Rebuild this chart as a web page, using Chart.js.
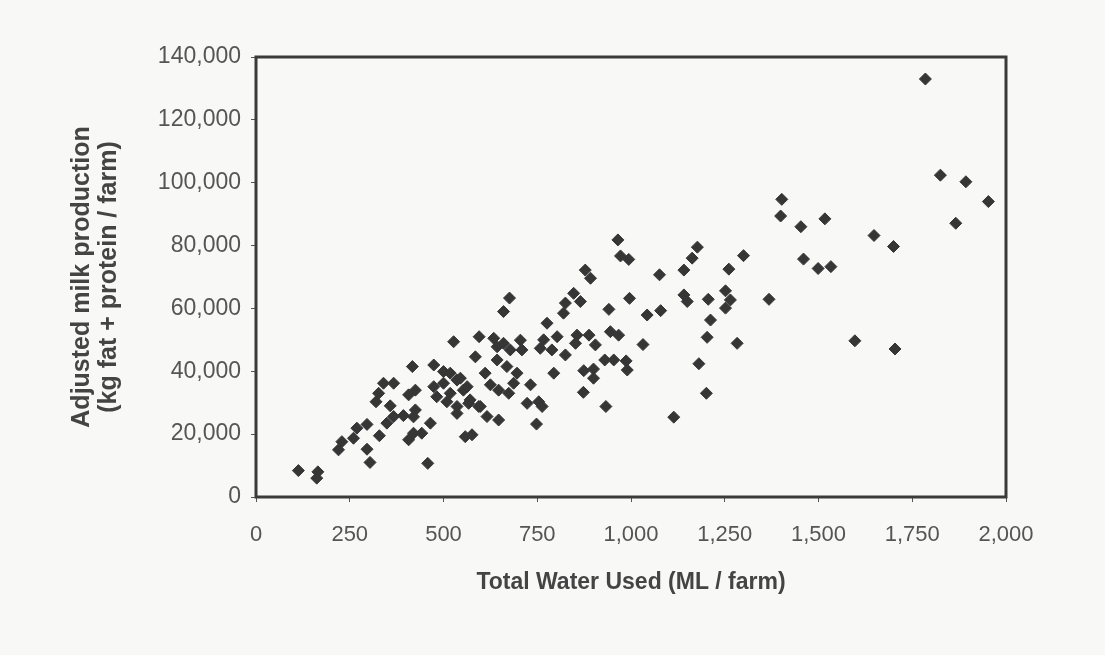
<!DOCTYPE html>
<html>
<head>
<meta charset="utf-8">
<script src="https://cdn.jsdelivr.net/npm/chart.js@4.4.0/dist/chart.umd.min.js"></script>
<style>
  html, body { margin: 0; padding: 0; background: #f8f8f7; }
  #wrap { width: 1105px; height: 655px; }
</style>
</head>
<body>
<div id="wrap"><canvas id="myChart" width="1105" height="655"></canvas></div>
<script>
// water used (ML / farm) and adjusted milk production (kg fat + protein / farm)
const waterUsed = [
  113, 165, 162, 220, 229, 260, 269, 296, 296, 304, 329, 320, 327, 340, 367, 358, 349, 367, 393, 407,
  425, 417, 425, 420, 407, 420, 442, 465, 458, 474, 500, 518, 536, 553, 571, 594, 536, 509, 482, 474,
  518, 500, 563, 545, 536, 567, 527, 558, 576, 585, 595, 634, 660, 660, 676, 643, 669, 696, 687, 674,
  647, 625, 611, 598, 616, 647, 643, 678, 705, 709, 878, 892, 847, 865, 825, 820, 776, 941, 996, 1076,
  1141, 1163, 1177, 1261, 1043, 1079, 1141, 1150, 1206, 1252, 1265, 1252, 1212, 1203, 1283, 1181, 1201, 1114, 1032, 945,
  967, 888, 905, 930, 954, 987, 990, 933, 874, 900, 900, 873, 794, 856, 852, 803, 825, 789, 767, 758,
  732, 723, 754, 763, 748, 965, 972, 994, 1300, 1402, 1399, 1453, 1517, 1648, 1700, 1460, 1499, 1533, 1368, 1597,
  1704, 1785, 1825, 1893, 1953, 1866
];
const milkProduction = [
  8400, 8000, 6000, 15000, 17600, 18700, 21900, 23100, 15200, 11000, 19500, 30300, 33000, 36200, 36200, 29000, 23500, 25600, 25900, 32500,
  34000, 41500, 27700, 25500, 18200, 20300, 20300, 23500, 10700, 42000, 39900, 39400, 37200, 34000, 30900, 28800, 28800, 30300, 31900, 35100,
  33000, 36200, 35100, 37800, 26600, 29800, 49400, 19200, 19800, 44600, 51000, 50500, 48900, 59000, 63300, 43600, 41500, 39400, 36200, 33000,
  34000, 35700, 39400, 28800, 25600, 24500, 47800, 46800, 49900, 46800, 72200, 69600, 64800, 62200, 61700, 58500, 55300, 59700, 63200, 70700,
  72200, 76000, 79500, 72500, 57900, 59300, 64300, 62200, 62900, 65600, 62700, 60100, 56300, 50800, 48900, 42400, 33000, 25400, 48500, 52600,
  51500, 51500, 48400, 43600, 43600, 43300, 40400, 28800, 40200, 40700, 37800, 33300, 39400, 51500, 48900, 51000, 45200, 46800, 50000, 47300,
  35700, 29800, 30300, 28800, 23200, 81800, 76700, 75600, 76800, 94700, 89400, 86000, 88500, 83200, 79700, 75700, 72700, 73300, 62900, 49700,
  47100, 133000, 102400, 100300, 94000, 87100
];
const xTicks = [0, 250, 500, 750, 1000, 1250, 1500, 1750, 2000];
const yTicks = [0, 20000, 40000, 60000, 80000, 100000, 120000, 140000];

const points = waterUsed.map((x, i) => ({ x: x, y: milkProduction[i] }));

// box around the plot area
const frame = {
  id: "frame",
  beforeDatasetsDraw(chart) {
    const { ctx, chartArea: a } = chart;
    ctx.save();
    ctx.strokeStyle = "#3a3a3a";
    ctx.lineWidth = 3;
    ctx.strokeRect(a.left, a.top, a.right - a.left, a.bottom - a.top);
    ctx.restore();
  },
};

const font = "'Liberation Sans', Arial, sans-serif";

new Chart(document.getElementById("myChart"), {
  type: "scatter",
  data: {
    datasets: [
      {
        label: "Farms",
        data: points,
        pointStyle: "rectRot",
        pointRadius: 6,
        pointHoverRadius: 6,
        backgroundColor: "#363636",
        borderColor: "#363636",
        borderWidth: 1,
      },
    ],
  },
  options: {
    responsive: false,
    animation: false,
    layout: { padding: { left: 0, right: 99, top: 57, bottom: 0 } },
    plugins: { legend: { display: false }, tooltip: { enabled: false } },
    scales: {
      x: {
        type: "linear",
        min: 0,
        max: 2000,
        afterBuildTicks: (s) => { s.ticks = xTicks.map((v) => ({ value: v })); },
        afterFit: (s) => { s.height = 158; },
        grid: { drawOnChartArea: false, tickLength: 5, tickColor: "#555", tickWidth: 1 },
        border: { display: false },
        ticks: { autoSkip: false, maxRotation: 0, padding: 20, color: "#555", font: { family: font, size: 22 } },
        title: {
          display: true,
          text: "Total Water Used (ML / farm)",
          color: "#444",
          padding: { top: 0, bottom: 59 },
          font: { family: font, size: 23, weight: "bold" },
        },
      },
      y: {
        type: "linear",
        min: 0,
        max: 140000,
        afterBuildTicks: (s) => { s.ticks = yTicks.map((v) => ({ value: v })); },
        afterFit: (s) => { s.width = 256; },
        grid: { drawOnChartArea: false, tickLength: 5, tickColor: "#555", tickWidth: 1 },
        border: { display: false },
        ticks: { autoSkip: false, padding: 10, color: "#555", font: { family: font, size: 23 } },
        title: {
          display: true,
          text: ["Adjusted milk production", "(kg fat + protein / farm)"],
          color: "#444",
          padding: { top: 69, bottom: 0 },
          font: { family: font, size: 25, weight: "bold", lineHeight: 1.06 },
        },
      },
    },
  },
  plugins: [frame],
});
</script>
</body>
</html>
